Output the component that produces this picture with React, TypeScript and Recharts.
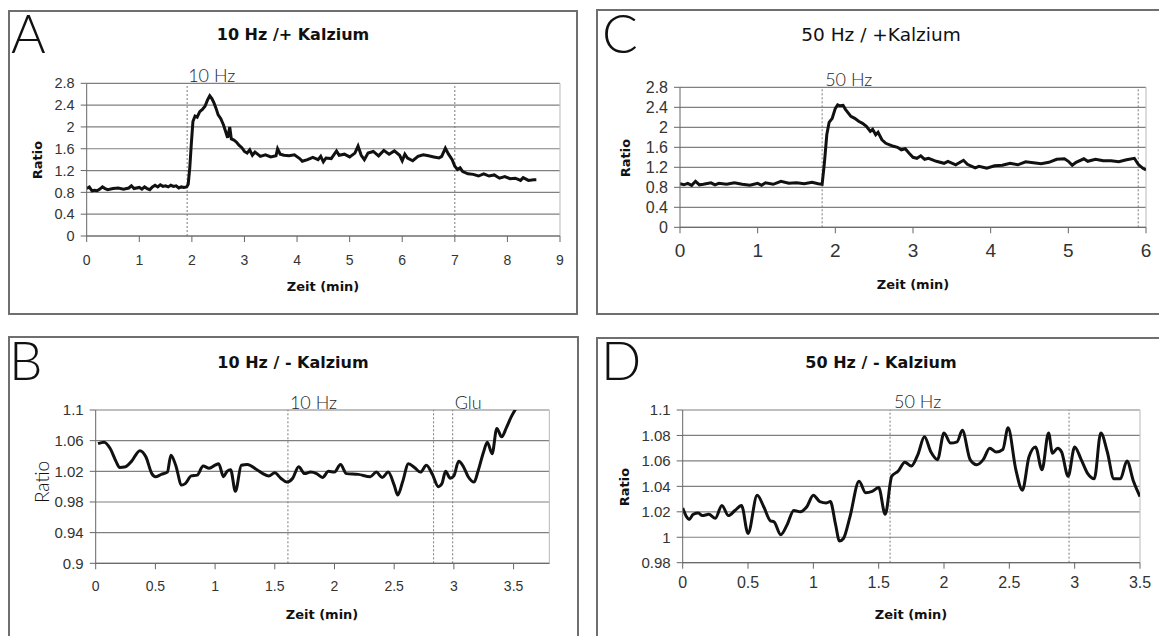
import React from 'react';
import { LineChart, Line, XAxis, YAxis, CartesianGrid, ReferenceLine } from 'recharts';

// ---------- DATA ----------
// Panel A: 10 Hz / + Kalzium
const timeA = [
  0.00, 0.05, 0.10, 0.15, 0.20, 0.25, 0.30, 0.35, 0.40, 0.50,
  0.60, 0.70, 0.80, 0.85, 0.90, 1.00, 1.05, 1.10, 1.15, 1.20,
  1.25, 1.30, 1.35, 1.40, 1.45, 1.50, 1.55, 1.60, 1.65, 1.70,
  1.75, 1.80, 1.85, 1.90, 1.93, 1.96, 1.99, 2.02, 2.06, 2.10,
  2.15, 2.20, 2.25, 2.30, 2.34, 2.38, 2.42, 2.46, 2.50, 2.55,
  2.60, 2.64, 2.68, 2.72, 2.75, 2.80, 2.85, 2.90, 2.95, 3.00,
  3.05, 3.10, 3.15, 3.20, 3.25, 3.30, 3.40, 3.50, 3.60, 3.63,
  3.68, 3.75, 3.85, 3.95, 4.05, 4.10, 4.20, 4.30, 4.40, 4.45,
  4.50, 4.55, 4.65, 4.75, 4.80, 4.90, 5.00, 5.10, 5.16, 5.22,
  5.28, 5.35, 5.45, 5.55, 5.65, 5.75, 5.85, 5.95, 6.00, 6.05,
  6.10, 6.20, 6.30, 6.40, 6.50, 6.60, 6.70, 6.75, 6.82, 6.88,
  6.95, 7.00, 7.05, 7.10, 7.15, 7.25, 7.35, 7.45, 7.55, 7.65,
  7.75, 7.85, 7.95, 8.05, 8.15, 8.25, 8.30, 8.40, 8.50, 8.55,
];
const ratioA = [
  0.87, 0.90, 0.83, 0.84, 0.83, 0.86, 0.90, 0.87, 0.85, 0.87,
  0.88, 0.86, 0.88, 0.92, 0.87, 0.89, 0.86, 0.90, 0.87, 0.85,
  0.90, 0.93, 0.90, 0.94, 0.91, 0.92, 0.90, 0.93, 0.91, 0.92,
  0.88, 0.90, 0.89, 0.90, 0.95, 1.25, 1.70, 2.10, 2.20, 2.18,
  2.28, 2.32, 2.38, 2.50, 2.57, 2.52, 2.44, 2.34, 2.22, 2.15,
  2.04, 1.92, 1.80, 2.00, 1.78, 1.76, 1.72, 1.66, 1.62, 1.55,
  1.52, 1.58, 1.48, 1.54, 1.50, 1.46, 1.49, 1.45, 1.47, 1.60,
  1.50, 1.48, 1.47, 1.49, 1.42, 1.37, 1.40, 1.44, 1.40, 1.46,
  1.36, 1.43, 1.42, 1.56, 1.48, 1.50, 1.45, 1.52, 1.65, 1.48,
  1.40, 1.52, 1.55, 1.47, 1.57, 1.50, 1.56, 1.48, 1.38, 1.50,
  1.43, 1.38, 1.46, 1.49, 1.47, 1.45, 1.43, 1.46, 1.61, 1.50,
  1.40, 1.28, 1.22, 1.25, 1.18, 1.14, 1.13, 1.10, 1.14, 1.10,
  1.12, 1.06, 1.09, 1.05, 1.06, 1.02, 1.07, 1.02, 1.03, 1.03,
];

// Panel C: 50 Hz / +Kalzium
const timeC = [
  0.00, 0.05, 0.10, 0.15, 0.20, 0.25, 0.30, 0.40, 0.45, 0.50,
  0.60, 0.70, 0.80, 0.90, 1.00, 1.05, 1.10, 1.20, 1.30, 1.40,
  1.50, 1.60, 1.70, 1.78, 1.83, 1.86, 1.89, 1.92, 1.96, 2.00,
  2.03, 2.06, 2.10, 2.13, 2.16, 2.20, 2.25, 2.30, 2.35, 2.40,
  2.45, 2.48, 2.52, 2.55, 2.60, 2.65, 2.70, 2.75, 2.80, 2.85,
  2.90, 2.95, 3.00, 3.05, 3.10, 3.15, 3.20, 3.30, 3.40, 3.45,
  3.55, 3.65, 3.70, 3.80, 3.85, 3.95, 4.05, 4.15, 4.25, 4.35,
  4.45, 4.55, 4.65, 4.75, 4.85, 4.95, 5.00, 5.05, 5.10, 5.20,
  5.25, 5.35, 5.45, 5.55, 5.65, 5.75, 5.85, 5.90, 5.96, 6.00,
];
const ratioC = [
  0.87, 0.85, 0.88, 0.84, 0.92, 0.85, 0.86, 0.89, 0.85, 0.88,
  0.86, 0.89, 0.86, 0.84, 0.88, 0.84, 0.89, 0.86, 0.92, 0.88,
  0.89, 0.87, 0.90, 0.87, 0.86, 1.30, 1.85, 2.10, 2.18, 2.38,
  2.45, 2.43, 2.44, 2.36, 2.30, 2.22, 2.18, 2.12, 2.08, 2.02,
  1.92, 1.96, 1.85, 1.90, 1.75, 1.68, 1.65, 1.62, 1.60, 1.55,
  1.57, 1.48, 1.40, 1.38, 1.43, 1.36, 1.38, 1.32, 1.28, 1.32,
  1.25, 1.34, 1.26, 1.19, 1.22, 1.18, 1.23, 1.24, 1.28, 1.25,
  1.31, 1.29, 1.27, 1.30, 1.36, 1.37, 1.32, 1.24, 1.30, 1.37,
  1.32, 1.36, 1.33, 1.33, 1.31, 1.35, 1.38, 1.26, 1.18, 1.15,
];

// Panel B: 10 Hz / - Kalzium
const timeB = [
  0.02, 0.07, 0.12, 0.17, 0.20, 0.25, 0.30, 0.37, 0.42, 0.47,
  0.50, 0.55, 0.60, 0.63, 0.67, 0.72, 0.75, 0.80, 0.85, 0.90,
  0.95, 1.00, 1.03, 1.07, 1.10, 1.13, 1.17, 1.22, 1.27, 1.35,
  1.40, 1.45, 1.50, 1.55, 1.60, 1.65, 1.70, 1.75, 1.80, 1.85,
  1.90, 1.95, 2.00, 2.05, 2.10, 2.20, 2.30, 2.35, 2.40, 2.45,
  2.50, 2.53, 2.57, 2.62, 2.67, 2.72, 2.77, 2.82, 2.87, 2.90,
  2.93, 2.97, 3.00, 3.04, 3.08, 3.12, 3.17, 3.20, 3.25, 3.28,
  3.32, 3.36, 3.40, 3.44, 3.48, 3.52,
];
const ratioB = [
  1.056, 1.058, 1.050, 1.033, 1.025, 1.026, 1.033, 1.047, 1.039, 1.017,
  1.013, 1.016, 1.019, 1.041, 1.028, 1.002, 1.004, 1.014, 1.015, 1.027,
  1.024, 1.028, 1.030, 1.013, 1.020, 1.022, 0.994, 1.028, 1.029, 1.022,
  1.017, 1.014, 1.018, 1.011, 1.006, 1.011, 1.026, 1.017, 1.019, 1.017,
  1.012, 1.020, 1.019, 1.029, 1.017, 1.016, 1.013, 1.019, 1.012, 1.019,
  1.002, 0.989, 1.006, 1.030, 1.025, 1.019, 1.028, 1.016, 1.000, 1.004,
  1.020, 1.011, 1.014, 1.033, 1.026, 1.013, 1.006, 1.019, 1.046, 1.058,
  1.043, 1.076, 1.065, 1.077, 1.091, 1.102,
];

// Panel D: 50 Hz / - Kalzium
const timeD = [
  0.00, 0.03, 0.05, 0.08, 0.12, 0.15, 0.20, 0.25, 0.30, 0.35,
  0.40, 0.45, 0.50, 0.57, 0.62, 0.67, 0.70, 0.75, 0.80, 0.85,
  0.90, 0.95, 1.00, 1.05, 1.10, 1.13, 1.17, 1.20, 1.23, 1.28,
  1.35, 1.40, 1.45, 1.50, 1.55, 1.60, 1.65, 1.70, 1.75, 1.80,
  1.85, 1.90, 1.95, 2.00, 2.05, 2.10, 2.14, 2.20, 2.25, 2.30,
  2.35, 2.40, 2.45, 2.49, 2.55, 2.60, 2.65, 2.70, 2.75, 2.80,
  2.83, 2.87, 2.90, 2.95, 3.00, 3.05, 3.10, 3.15, 3.20, 3.25,
  3.30, 3.35, 3.40, 3.45, 3.50,
];
const ratioD = [
  1.023, 1.016, 1.014, 1.018, 1.019, 1.017, 1.018, 1.015, 1.025, 1.017,
  1.021, 1.025, 1.003, 1.033, 1.024, 1.013, 1.012, 1.002, 1.010, 1.021,
  1.020, 1.024, 1.033, 1.028, 1.027, 1.028, 1.010, 0.997, 0.999, 1.016,
  1.044, 1.035, 1.036, 1.039, 1.018, 1.048, 1.052, 1.059, 1.056, 1.065,
  1.079, 1.067, 1.061, 1.082, 1.074, 1.075, 1.084, 1.061, 1.057, 1.061,
  1.070, 1.067, 1.069, 1.086, 1.053, 1.037, 1.063, 1.071, 1.053, 1.082,
  1.066, 1.070, 1.067, 1.048, 1.071, 1.061, 1.050, 1.046, 1.082, 1.067,
  1.046, 1.046, 1.060, 1.044, 1.032,
];

// Axis ticks
const xTicksA = [0, 1, 2, 3, 4, 5, 6, 7, 8, 9];
const yTicksA = [0, 0.4, 0.8, 1.2, 1.6, 2, 2.4, 2.8];
const xTicksC = [0, 1, 2, 3, 4, 5, 6];
const yTicksC = [0, 0.4, 0.8, 1.2, 1.6, 2, 2.4, 2.8];
const xTicksB = [0, 0.5, 1, 1.5, 2, 2.5, 3, 3.5];
const yTicksB = [0.9, 0.94, 0.98, 1.02, 1.06, 1.1];
const xTicksD = [0, 0.5, 1, 1.5, 2, 2.5, 3, 3.5];
const yTicksD = [0.98, 1, 1.02, 1.04, 1.06, 1.08, 1.1];

// Stimulus markers (minutes)
const markersA = [{ t: 1.91, text: '10 Hz' }, { t: 7.0, text: '' }];
const markersC = [{ t: 1.83, text: '50 Hz' }, { t: 5.9, text: '' }];
const markersB = [{ t: 1.61, text: '10 Hz' }, { t: 2.83, text: '' }, { t: 2.99, text: 'Glu' }];
const markersD = [{ t: 1.587, text: '50 Hz' }, { t: 2.957, text: '' }];

// Texts
const titles = ['10 Hz /+ Kalzium', '50 Hz / +Kalzium', '10 Hz / - Kalzium', '50 Hz / - Kalzium'];
const letters = ['A', 'C', 'B', 'D'];
const xTitle = 'Zeit (min)';
const yTitle = 'Ratio';

// ---------- STYLE / LAYOUT ----------
const FONT_TICK = '"Liberation Sans", Arial, sans-serif';
const FONT_WIDE = '"DejaVu Sans", Verdana, sans-serif';
const FONT_LIGHT = 'Lato, "Open Sans", sans-serif';

type Marker = { t: number; text: string };
type PanelCfg = {
  box: { x: number; y: number; w: number; h: number };
  plot: { l: number; t: number; r: number; b: number };
  times: number[];
  ratios: number[];
  xDomain: [number, number];
  yDomain: [number, number];
  xTicks: number[];
  yTicks: number[];
  xFont: number;
  yFont: number;
  xMargin: number;
  markers: Marker[];
  labelDx: number;
  labelDy: number;
  curve: 'linear' | 'monotone';
  width: number;
};

const panels: PanelCfg[] = [
  {
    box: { x: 9, y: 11, w: 568, h: 300 },
    plot: { l: 86.7, t: 83.3, r: 560, b: 236 },
    times: timeA, ratios: ratioA,
    xDomain: [0, 9], yDomain: [0, 2.8], xTicks: xTicksA, yTicks: yTicksA,
    xFont: 14, yFont: 14.5, xMargin: 13,
    markers: markersA, labelDx: 1, labelDy: 1.5, curve: 'linear', width: 3,
  },
  {
    box: { x: 597, y: 10, w: 562, h: 300 },
    plot: { l: 680, t: 87.3, r: 1146, b: 227.3 },
    times: timeC, ratios: ratioC,
    xFont: 19, yFont: 16, xMargin: 10,
    xDomain: [0, 6], yDomain: [0, 2.8], xTicks: xTicksC, yTicks: yTicksC,
    markers: markersC, labelDx: 3, labelDy: 1, curve: 'linear', width: 3,
  },
  {
    box: { x: 9, y: 337, w: 569, h: 299 },
    plot: { l: 95.7, t: 410, r: 549.4, b: 563.3 },
    times: timeB, ratios: ratioB,
    xDomain: [0, 3.8], yDomain: [0.9, 1.1], xTicks: xTicksB, yTicks: yTicksB,
    xFont: 14, yFont: 15, xMargin: 12,
    markers: markersB, labelDx: 2, labelDy: 1, curve: 'monotone', width: 3,
  },
  {
    box: { x: 597, y: 338, w: 562, h: 298 },
    plot: { l: 682.7, t: 410, r: 1140, b: 562.7 },
    times: timeD, ratios: ratioD,
    xDomain: [0, 3.5], yDomain: [0.98, 1.1], xTicks: xTicksD, yTicks: yTicksD,
    xFont: 16, yFont: 15, xMargin: 8,
    markers: markersD, labelDx: 4, labelDy: 2, curve: 'monotone', width: 3,
  },
];

const makeLabel = (text: string, dx: number, dy: number) => (props: any) => {
  const vb = props && props.viewBox ? props.viewBox : { x: 0, y: 0 };
  if (!text) return null;
  return (
    <text x={vb.x + dx} y={vb.y - dy} fontFamily={FONT_LIGHT} fontWeight={300} fontSize={18} fill="#1e1e1e">
      {text}
    </text>
  );
};

function Panel({ cfg }: { cfg: PanelCfg }) {
  const { box, plot } = cfg;
  const data = cfg.times.map((t, i) => ({ t, r: cfg.ratios[i] }));
  const margin = { top: plot.t - box.y, right: box.x + box.w - plot.r, left: 0, bottom: 0 };
  const yAxisWidth = plot.l - box.x;
  const xAxisHeight = box.y + box.h - plot.b;
  return (
    <div style={{ position: 'absolute', left: box.x, top: box.y }}>
      <LineChart width={box.w} height={box.h} data={data} margin={margin}>
        <CartesianGrid horizontal vertical={false} stroke="#808080" strokeWidth={1.2} />
        <XAxis
          type="number"
          dataKey="t"
          domain={cfg.xDomain}
          ticks={cfg.xTicks}
          interval={0}
          allowDataOverflow
          height={xAxisHeight}
          tickSize={6}
          tickMargin={cfg.xMargin}
          stroke="#666"
          tick={{ fill: '#333', fontSize: cfg.xFont, fontFamily: FONT_TICK }}
        />
        <YAxis
          type="number"
          domain={cfg.yDomain}
          ticks={cfg.yTicks}
          interval={0}
          allowDataOverflow
          width={yAxisWidth}
          tickSize={6}
          tickMargin={6}
          stroke="#666"
          tick={{ fill: '#333', fontSize: cfg.yFont, fontFamily: FONT_TICK }}
        />
        <ReferenceLine x={cfg.xDomain[1]} stroke="#c4c4c4" strokeWidth={1.2} />
        {cfg.markers.map((m, i) => (
          <ReferenceLine
            key={i}
            x={m.t}
            stroke="#7a7a7a"
            strokeWidth={1}
            strokeDasharray="2 2"
            label={makeLabel(m.text, cfg.labelDx, cfg.labelDy)}
          />
        ))}
        <Line
          type={cfg.curve}
          dataKey="r"
          stroke="#111"
          strokeWidth={cfg.width}
          dot={false}
          isAnimationActive={false}
        />
      </LineChart>
    </div>
  );
}

export default function App() {
  const boxes = [
    { x: 9, y: 11, w: 568, h: 303 },
    { x: 597, y: 10, w: 570, h: 304 },
    { x: 9, y: 337, w: 569, h: 320 },
    { x: 597, y: 338, w: 570, h: 320 },
  ];
  const titleSpec = [
    { x: 293, y: 40, size: 16, weight: 700 },
    { x: 881, y: 41, size: 18.5, weight: 400 },
    { x: 293, y: 368, size: 16, weight: 700 },
    { x: 881, y: 368, size: 16, weight: 700 },
  ];
  const letterSpec = [
    { x: 11, y: 53 },
    { x: 602, y: 53 },
    { x: 9, y: 380 },
    { x: 601, y: 380 },
  ];
  const xTitleSpec = [
    { x: 323, y: 291 },
    { x: 913, y: 289 },
    { x: 322, y: 619 },
    { x: 911, y: 619 },
  ];
  const yTitleSpec = [
    { x: 37.5, y: 160, light: false },
    { x: 625.5, y: 158, light: false },
    { x: 41.5, y: 482, light: true },
    { x: 624.5, y: 487, light: false },
  ];
  return (
    <div style={{ position: 'absolute', left: 0, top: 0, width: 1159, height: 636, background: '#fff', overflow: 'hidden' }}>
      {panels.map((p, i) => (
        <Panel key={i} cfg={p} />
      ))}
      <svg
        width={1159}
        height={636}
        style={{ position: 'absolute', left: 0, top: 0, pointerEvents: 'none' }}
      >
        {boxes.map((b, i) => (
          <rect key={'b' + i} x={b.x} y={b.y} width={b.w} height={b.h} fill="none" stroke="#6f6f6f" strokeWidth={2} />
        ))}
        {titles.map((t, i) => (
          <text
            key={'t' + i}
            x={titleSpec[i].x}
            y={titleSpec[i].y}
            textAnchor="middle"
            fontFamily={FONT_WIDE}
            fontWeight={titleSpec[i].weight}
            fontSize={titleSpec[i].size}
            fill="#111"
          >
            {t}
          </text>
        ))}
        {letters.map((l, i) => (
          <text
            key={'l' + i}
            x={letterSpec[i].x}
            y={letterSpec[i].y}
            fontFamily={FONT_LIGHT}
            fontWeight={300}
            fontSize={53}
            fill="#111"
          >
            {l}
          </text>
        ))}
        {xTitleSpec.map((s, i) => (
          <text
            key={'x' + i}
            x={s.x}
            y={s.y}
            textAnchor="middle"
            fontFamily={FONT_WIDE}
            fontWeight={700}
            fontSize={13}
            fill="#111"
          >
            {xTitle}
          </text>
        ))}
        {yTitleSpec.map((s, i) => (
          <text
            key={'y' + i}
            transform={`translate(${s.x},${s.y}) rotate(-90)`}
            textAnchor="middle"
            dominantBaseline="central"
            fontFamily={s.light ? FONT_LIGHT : FONT_WIDE}
            fontWeight={s.light ? 300 : 700}
            fontSize={s.light ? 19 : 13}
            fill="#111"
          >
            {yTitle}
          </text>
        ))}
      </svg>
    </div>
  );
}
